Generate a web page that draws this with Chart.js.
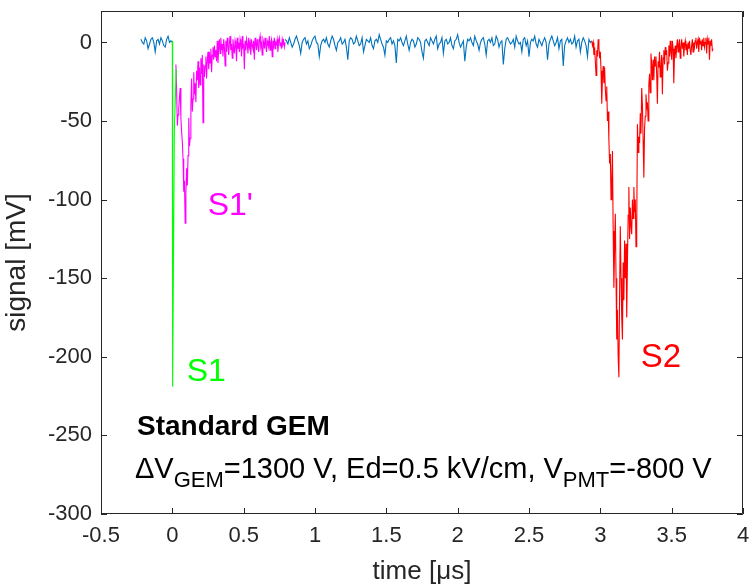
<!DOCTYPE html>
<html>
<head>
<meta charset="utf-8">
<script src="https://cdn.jsdelivr.net/npm/chart.js@4/dist/chart.umd.min.js"></script>
<style>
  body { margin: 0; background: #fff; }
  canvas { display: block; }
</style>
</head>
<body>
<canvas id="pmtGraph" width="753" height="587"></canvas>
<script>
// Dados (tempo em µs, sinal em mV)
const xTicks = [-0.5, 0, 0.5, 1, 1.5, 2, 2.5, 3, 3.5, 4];
const yTicks = [-300, -250, -200, -150, -100, -50, 0];

// linha de base antes do trigger: início -0.22, passo 0.01
const baseStart = -0.22, baseStep = 0.01;
const baseVals = [2, 0, -1, 3, 1, -4, -1, 2, 3, 0, -6, 1, 2, -1, 3, 1, -2, -3, 2, 4, 0, 1, 0];

// S1 (verde)
const s1Times = [0, 0.002, 0.014, 0.027];
const s1Vals = [1, -219, -57, -17];

// S1' (magenta): início 0.025, passo 0.005
const s1pStart = 0.025, s1pStep = 0.005;
const s1pVals = [
  -14, -30, -53, -46, -42, -35, -29, -48, -57, -63, -74, -95, -88, -115, -96, -80, -91, -72, -48, -66,
  -61, -40, -23, -44, -36, -19, -33, -26, -38, -18, -24, -12, -29, -16, -27, -10, -20, -8, -51, -14,
  -22, -15, -9, -23, -11, -6, -17, -6, -13, -4, -19, -8, -3, -11, -2, -9, -5, -12, 1, -13,
  -4, 2, -7, 3, -5, -1,
  -9, 2, -3, -15, 1, -6, 3, -2, -8, 0, 4, -5, -1, -10, 2, -3, -7, 1, -2, -12,
  3, -4, 0, -6, 2, -1, -9, 4, -3, -2, -17, 1, -5, 2, -1, -7, 3, -3, 0, -8,
  2, -2, -4, 1, -11, 3, 0, -5, 2, -2, -6, 1, 4, -3, -1, -8, 2, 0, -4, 3,
  -2, -6, 1, -1, -3, 4, -5, 0, 2, -9, 1, -2, 3, -4, 0, -1, 2, -6, 1, 3,
  -2, 0, -4, 2, -1, 1, -3, 0
];

// linha de base entre S1' e S2 (azul): início 0.79, passo 0.01
const midStart = 0.79, midStep = 0.01;
const midVals = [
  2, 1, -1, 3, 0, -3, -1, 2, 4, 1, -2, -7, 0, 2, 3, -1, 1, -4, -2, 1,
  3, 4, 0, -1, -9, -2, 1, 2, 0, 3, -1, -3, 1, 4, 2, -2, -5, 0, 1, 3,
  -1, 0, 2, -3, -11, 1, 3, 2, -1, 0, 4, 1, -2, -1, 3, -6, -2, 2, 1, 0,
  3, -2, -4, 1, 2, 0, 5, 2, -1, -3, -8, 1, 0, 2, 3, -1, 1, -2, -13, 2,
  1, 3, 0, -2, 1, 4, -1, -5, 0, 2, 1, -3, -1, 3, 2, 0, -6, -10, 1, 2,
  0, -2, 3, 1, -1, 2, 4, -4, -1, 0, 3, -7, 1, 2, -1, 0, 3, -2, -4, 1,
  2, 5, 0, -3, -1, 1, -12, -3, 2, 1, 3, 0, -2, 4, 1, -1, -5, 0, 2, 3,
  -1, -8, 1, 2, 0, 3, -2, -1, 4, 2, -3, 0, 1, -14, -4, 2, 3, 1, -1, 0,
  2, -3, 4, 1, -1, 0, -6, 2, 3, -2, 1, -9, 0, 2, 1, 4, -1, -3, 2, 0,
  -2, 1, 3, 0, -11, -1, 2, 4, 1, -2, 0, 3, -4, 1, 2, -15, -2, 1, 3, 0,
  2, -1, 0, 4, -3, 1, 2, -6, 0, 3, 1, -2, -9, 2, 0, 1
];

// S2 (vermelho): início 2.94, passo 0.005
const s2Start = 2.94, s2Step = 0.005;
const s2Vals = [
  1, -2, 0, -8, -3, -12, -21, -5, -9, 2, -3, -10, -6, -18, -39, -22, -15, -26, -16, -30,
  -37, -28, -50, -44, -62, -77, -71, -100, -88, -69, -120, -156, -130, -109, -150, -189, -170, -200, -213, -160,
  -117, -150, -175, -189, -140, -164, -126, -150, -128, -175, -140, -110, -92, -125, -105, -117, -122, -100, -112, -92,
  -108, -100, -130, -118, -52, -70, -60, -64, -45, -58, -29, -40, -62, -86, -55, -47, -33, -41, -38, -50,
  -27, -20, -32, -7, -14, -24, -11, -24, -9, -15, -9, -20, -39, -12, -16, -6, -22, -16, -8, -33,
  -10, -5, -14, -3, -8, -5, -18, -13, -2, -9, 1, -6, -11, 1, -4, -26, -7, -2, -10, -3,
  2, -6, -1, 2, -10, -3, 2, -4, 0, -9, -2, 1, -5, -1, -8, 0, -4, 1, -5, -8,
  -2, 2, -6, 0, -3, 1, 3, -4, 0, 2, -6, 3, -1, 1, -5, 2, -2, 3, -3, 0,
  3, -7, 2, -1, 3, -11, 1, -2, 2, -5, -4
];

function serie(t0, dt, vals) {
  return vals.map((v, i) => ({ x: t0 + i * dt, y: v }));
}
function serieT(ts, vals) {
  return vals.map((v, i) => ({ x: ts[i], y: v }));
}

const AXIS_COLOR = '#262626';
const FONT = "'Liberation Sans', Arial, sans-serif";

// Caixa e marcas internas estilo MATLAB, mais os textos
const boxPlugin = {
  id: 'boxPlugin',
  afterDatasetsDraw(chart) {
    const { ctx, chartArea: a, scales: { x, y } } = chart;
    ctx.save();
    ctx.strokeStyle = AXIS_COLOR;
    ctx.lineWidth = 1;
    ctx.beginPath();
    ctx.rect(a.left + 0.5, a.top + 0.5, a.right - a.left - 1, a.bottom - a.top - 1);
    ctx.stroke();
    ctx.beginPath();
    xTicks.forEach(v => {
      const px = Math.round(x.getPixelForValue(v)) + 0.5;
      ctx.moveTo(px, a.bottom); ctx.lineTo(px, a.bottom - 6);
      ctx.moveTo(px, a.top); ctx.lineTo(px, a.top + 6);
    });
    yTicks.forEach(v => {
      const py = Math.round(y.getPixelForValue(v)) + 0.5;
      ctx.moveTo(a.left, py); ctx.lineTo(a.left + 6, py);
      ctx.moveTo(a.right, py); ctx.lineTo(a.right - 6, py);
    });
    ctx.stroke();

    ctx.textBaseline = 'middle';
    ctx.textAlign = 'left';
    const put = (txt, tx, ty, color, size, bold) => {
      ctx.fillStyle = color;
      ctx.font = (bold ? 'bold ' : '') + size + 'px ' + FONT;
      ctx.fillText(txt, x.getPixelForValue(tx), y.getPixelForValue(ty));
    };
    put("S1'", 0.248, -104, '#ff00ff', 32);
    put('S1', 0.101, -210, '#00ff00', 32);
    put('S2', 3.283, -201, '#ff0000', 33);
    put('Standard GEM', -0.248, -245, '#000000', 28, true);

    // linha com subscritos
    let px = x.getPixelForValue(-0.262);
    const py = y.getPixelForValue(-272);
    const parts = [['\u0394V', false], ['GEM', true], ['=1300 V, Ed=0.5 kV/cm, V', false], ['PMT', true], ['=-800 V', false]];
    ctx.fillStyle = '#000';
    parts.forEach(([t, sub]) => {
      ctx.font = (sub ? 22 : 29) + 'px ' + FONT;
      ctx.fillText(t, px, sub ? py + 11 : py);
      px += ctx.measureText(t).width;
    });
    ctx.restore();
  }
};

const ctx = document.getElementById('pmtGraph').getContext('2d');

new Chart(ctx, {
  type: 'scatter',
  data: {
    datasets: [
      { data: serie(baseStart, baseStep, baseVals), borderColor: '#0072bd', order: 5 },
      { data: serie(midStart, midStep, midVals), borderColor: '#0072bd', order: 4 },
      { data: serie(s1pStart, s1pStep, s1pVals), borderColor: '#ff00ff', order: 3 },
      { data: serieT(s1Times, s1Vals), borderColor: '#00ff00', order: 1 },
      { data: serie(s2Start, s2Step, s2Vals), borderColor: '#ff0000', order: 2 }
    ].map(d => Object.assign(d, {
      showLine: true,
      borderWidth: 1.1,
      pointRadius: 0,
      tension: 0,
      backgroundColor: 'transparent'
    }))
  },
  options: {
    responsive: false,
    animation: false,
    layout: { padding: { top: 11, right: 10, left: 0, bottom: 0 } },
    plugins: { legend: { display: false }, tooltip: { enabled: false } },
    scales: {
      x: {
        type: 'linear',
        min: -0.5,
        max: 4,
        afterFit: s => { s.height = 73; s.paddingLeft = 0; s.paddingRight = 0; },
        afterBuildTicks: s => { s.ticks = xTicks.map(v => ({ value: v })); },
        grid: { display: false, drawTicks: false },
        border: { display: false },
        ticks: { color: AXIS_COLOR, font: { family: FONT, size: 22 }, padding: 9, maxRotation: 0, callback: v => String(v) },
        title: { display: true, text: 'time [\u03bcs]', color: AXIS_COLOR, font: { family: FONT, size: 26 }, padding: 0 }
      },
      y: {
        min: -300,
        max: 20,
        afterFit: s => { s.width = 101; s.paddingTop = 0; s.paddingBottom = 0; },
        afterBuildTicks: s => { s.ticks = yTicks.map(v => ({ value: v })); },
        grid: { display: false, drawTicks: false },
        border: { display: false },
        ticks: { color: AXIS_COLOR, font: { family: FONT, size: 22 }, padding: 9, callback: v => String(v) },
        title: { display: true, text: 'signal [mV]', color: AXIS_COLOR, font: { family: FONT, size: 28 }, padding: 0 }
      }
    }
  },
  plugins: [boxPlugin]
});
</script>
</body>
</html>
